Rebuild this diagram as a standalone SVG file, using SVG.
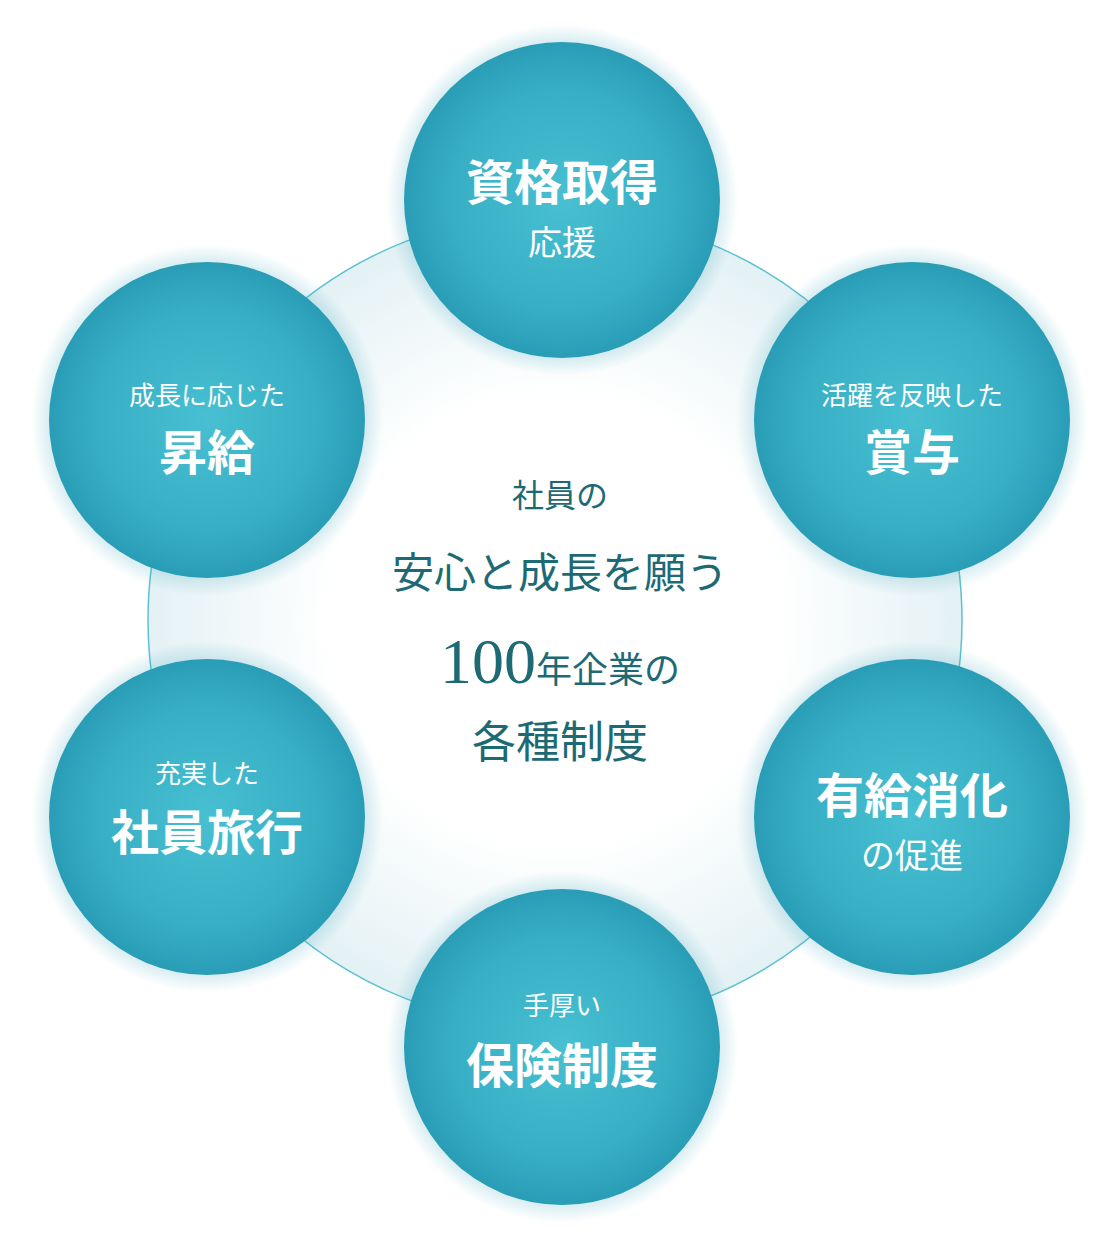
<svg xmlns="http://www.w3.org/2000/svg" width="1120" height="1260" viewBox="0 0 1120 1260">
<defs>
<radialGradient id="g" cx="50%" cy="50%" r="50%">
<stop offset="0" stop-color="#48c0d2"/><stop offset="0.7" stop-color="#37aec4"/><stop offset="1" stop-color="#2a9db6"/>
</radialGradient>
<radialGradient id="glow" cx="50%" cy="50%" r="50%">
<stop offset="0.8" stop-color="#2a9db6" stop-opacity="0.35"/><stop offset="1" stop-color="#2a9db6" stop-opacity="0"/>
</radialGradient>
<radialGradient id="inner" cx="50%" cy="50%" r="50%">
<stop offset="0.55" stop-color="#ffffff"/><stop offset="1" stop-color="#e3f1f4"/>
</radialGradient>
</defs>
<style>
.c{fill:url(#g)}.gl{fill:url(#glow)}
.t{fill:#fff;font-family:"Noto Sans CJK JP",sans-serif;text-anchor:middle}
.b{font-weight:bold;font-size:48px}.m{font-size:34px}.s{font-size:26px}
.ct{fill:#1d6a74;font-family:"Noto Sans CJK JP",sans-serif;text-anchor:middle}
</style>
<rect width="1120" height="1260" fill="#fff"/>
<g id="connectors">
<circle cx="555" cy="620" r="407" fill="url(#inner)" stroke="#5cc2d2" stroke-width="1.5"/>
</g>
<g id="n1"><circle class="gl" cx="562" cy="200" r="176"/><circle class="c" cx="562" cy="200" r="158"/><text class="t b" x="562" y="200">資格取得</text><text class="t m" x="562" y="255">応援</text></g>
<g id="n2"><circle class="gl" cx="207" cy="420" r="176"/><circle class="c" cx="207" cy="420" r="158"/><text class="t s" x="207" y="405">成長に応じた</text><text class="t b" x="207" y="470">昇給</text></g>
<g id="n3"><circle class="gl" cx="912" cy="420" r="176"/><circle class="c" cx="912" cy="420" r="158"/><text class="t s" x="912" y="405">活躍を反映した</text><text class="t b" x="912" y="470">賞与</text></g>
<g id="n4"><circle class="gl" cx="207" cy="817" r="176"/><circle class="c" cx="207" cy="817" r="158"/><text class="t s" x="207" y="783">充実した</text><text class="t b" x="207" y="850">社員旅行</text></g>
<g id="n5"><circle class="gl" cx="912" cy="817" r="176"/><circle class="c" cx="912" cy="817" r="158"/><text class="t b" x="912" y="813">有給消化</text><text class="t m" x="912" y="868">の促進</text></g>
<g id="n6"><circle class="gl" cx="562" cy="1047" r="176"/><circle class="c" cx="562" cy="1047" r="158"/><text class="t s" x="562" y="1015">手厚い</text><text class="t b" x="562" y="1083">保険制度</text></g>
<g id="center">
<text class="ct" x="560" y="507" font-size="32">社員の</text>
<text class="ct" x="560" y="588" font-size="42">安心と成長を願う</text>
<text class="ct" x="560" y="683"><tspan font-family="Liberation Serif,serif" font-size="64">100</tspan><tspan font-size="36">年企業の</tspan></text>
<text class="ct" x="560" y="758" font-size="44">各種制度</text>
</g>
</svg>
